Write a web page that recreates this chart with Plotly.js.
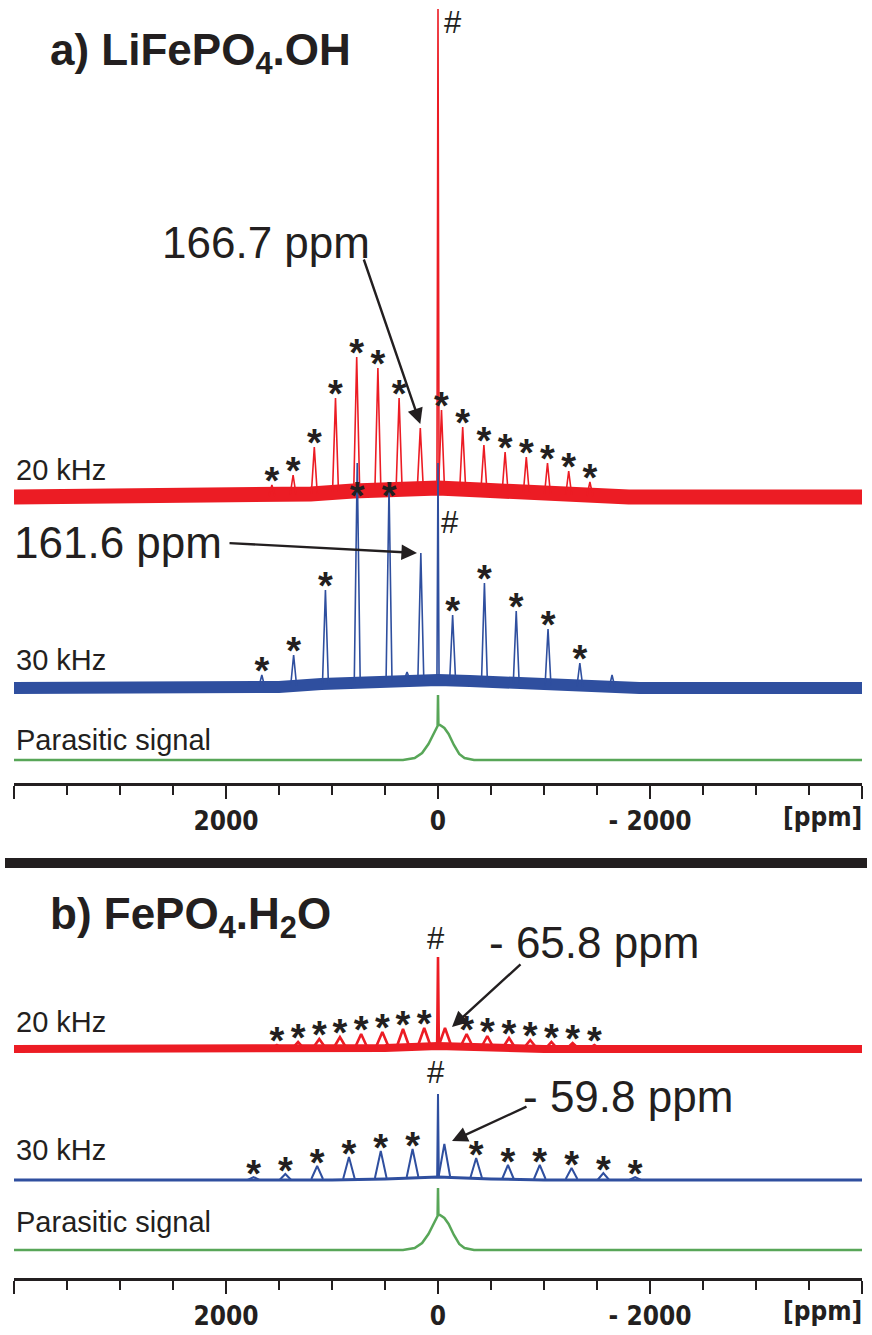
<!DOCTYPE html>
<html>
<head>
<meta charset="utf-8">
<script src="https://cdn.plot.ly/plotly-3.0.1.min.js"></script>
<style>html,body{margin:0;padding:0;background:#fff;}#chart{width:872px;height:1335px;}</style>
</head>
<body>
<div id="chart"></div>
<script>
// ---------- DATA (ppm positions, intensities above each spectrum's baseline) ----------
// Panel a) LiFePO4.OH, 20 kHz
const redA_pos  = [1567, 1367, 1167, 967, 767, 567, 367, 167, 0, -33, -233, -433, -633, -833, -1033, -1233, -1433];
const redA_top  = [12, 22, 50, 99, 140, 129, 99, 69, 488, 87, 70, 52, 45, 40, 34, 26, 15];
const redA_foot = [1, 2, 3, 5, 7, 8, 9, 9, 9, 9, 8, 7, 5, 4, 3, 2, 1];
const redA_mark = ['*','*','*','*','*','*','*','','#','*','*','*','*','*','*','*','*'];
const redA_envPpm = [4000, 1800, 1600, 1200, 800, 400, 0, -400, -800, -1200, -1600, -1800, -4000];
const redA_envInt = [0, 0, 1, 3, 6, 8, 9, 7, 4, 2, 0, 0, 0];
// Panel a) 30 kHz
const blueA_pos  = [1662, 1362, 1062, 762, 462, 292, 162, 0, -138, -438, -738, -1038, -1338, -1642];
const blueA_top  = [13, 33, 98, 225, 201, 16, 135, 225, 73, 105, 77, 59, 25, 13];
const blueA_foot = [1, 2, 4, 6, 7, 8, 8, 8, 7, 5, 4, 2, 1, 0];
const blueA_mark = ['*','*','*','*','*','','','#','*','*','*','*','*',''];
const blueA_envPpm = [4000, 1900, 1500, 1100, 700, 300, 0, -300, -700, -1100, -1500, -1900, -4000];
const blueA_envInt = [0, 0, 1, 4, 6, 8, 8, 7, 5, 2, 1, 0, 0];
// Panel a) parasitic signal
const greenA_ppm = [4000, 330, 220, 150, 90, 50, 20, 4, 0, -4, -19, -60, -100, -150, -200, -250, -340, -4000];
const greenA_int = [0, 0, 2, 7, 16, 25, 32, 34, 65, 35, 35, 32, 26, 15, 6, 2, 0, 0];

// Panel b) FePO4.H2O, 20 kHz
const redB_pos  = [1520, 1320, 1120, 925, 725, 525, 330, 130, 0, -66, -270, -465, -670, -870, -1070, -1270, -1475];
const redB_top  = [4, 7, 10, 12, 15, 17, 20, 21, 92, 21, 15, 13, 11, 9, 7, 6, 4];
const redB_foot = [0, 0, 1, 1, 1, 2, 2, 3, 3, 3, 2, 1, 1, 1, 0, 0, 0];
const redB_mark = ['*','*','*','*','*','*','*','*','#','','*','*','*','*','*','*','*'];
const redB_envPpm = [4000, 1000, 500, 0, -500, -1000, -4000];
const redB_envInt = [0, 0, 1, 3, 1, 0, 0];
// Panel b) 30 kHz
const blueB_pos  = [1740, 1440, 1140, 840, 540, 240, 0, -60, -360, -660, -960, -1260, -1560, -1860];
const blueB_top  = [3, 6, 14, 23, 29, 31, 86, 36, 22, 15, 15, 12, 7, 3];
const blueB_foot = [0, 0, 1, 1, 2, 3, 3, 3, 2, 1, 1, 1, 0, 0];
const blueB_mark = ['*','*','*','*','*','*','#','','*','*','*','*','*','*'];
const blueB_envPpm = [4000, 1000, 500, 0, -500, -1000, -4000];
const blueB_envInt = [0, 0, 1, 3, 1, 0, 0];
// Panel b) parasitic signal
const greenB_ppm = [4000, 330, 220, 150, 90, 50, 20, 4, 0, -4, -19, -60, -100, -150, -200, -250, -340, -4000];
const greenB_int = [0, 0, 2, 7, 16, 25, 32, 34, 62, 35, 35, 32, 26, 15, 6, 2, 0, 0];

const tickVals = [4000, 2000, 0, -2000, -4000];
const tickText = ['', '2000', '0', '- 2000', ''];

// ---------- STYLE ----------
const W = 872, H = 1335;
const RED = '#ec1c24', BLUE = '#2f4f9f', GREEN = '#58a658';
const base = {y: 497, y2: 688, y3: 760, y4: 1049, y5: 1180, y6: 1250};

function peakLine(pos, top, foot, mark, w, wRef) {
  const xs = [], ys = [];
  for (let i = 0; i < pos.length; i++) {
    const ww = mark[i] === '#' ? wRef : w;
    xs.push(pos[i] + ww, pos[i], pos[i] - ww, null);
    ys.push(foot[i], top[i], foot[i], null);
  }
  return {xs, ys};
}
function stars(pos, top, mark, off, cap) {
  const xs = [], ys = [];
  for (let i = 0; i < pos.length; i++) {
    if (mark[i] === '*') { xs.push(pos[i]); ys.push(Math.min(top[i], cap) + off); }
  }
  return {xs, ys};
}

const traces = [];
function addSpectrum(xa, ya, envX, envY, bandW, pos, top, foot, w, wRef, lw, color, mark, off, cap) {
  traces.push({x: envX, y: envY, xaxis: xa, yaxis: ya, mode: 'lines', line: {color: color, width: bandW}, hoverinfo: 'skip'});
  const p = peakLine(pos, top, foot, mark, w, wRef);
  traces.push({x: p.xs, y: p.ys, xaxis: xa, yaxis: ya, mode: 'lines', connectgaps: false, line: {color: color, width: lw}, hoverinfo: 'skip'});
  const s = stars(pos, top, mark, off, cap);
  traces.push({x: s.xs, y: s.ys, xaxis: xa, yaxis: ya, mode: 'text', text: s.xs.map(() => '*'), textposition: 'middle center', cliponaxis: false,
    textfont: {family: 'Liberation Sans, Arial, sans-serif', size: 38, color: '#231f20', weight: 700}, hoverinfo: 'skip'});
}
addSpectrum('x', 'y', redA_envPpm, redA_envInt, 15, redA_pos, redA_top, redA_foot, 28, 10, 1.6, RED, redA_mark, 1, 1000);
addSpectrum('x', 'y2', blueA_envPpm, blueA_envInt, 12, blueA_pos, blueA_top, blueA_foot, 28, 10, 1.6, BLUE, blueA_mark, 1, 188);
traces.push({x: greenA_ppm, y: greenA_int, xaxis: 'x', yaxis: 'y3', mode: 'lines', line: {color: GREEN, width: 2.5}, hoverinfo: 'skip'});
addSpectrum('x2', 'y4', redB_envPpm, redB_envInt, 8, redB_pos, redB_top, redB_foot, 60, 8, 2.6, RED, redB_mark, 1, 1000);
addSpectrum('x2', 'y5', blueB_envPpm, blueB_envInt, 3, blueB_pos, blueB_top, blueB_foot, 55, 8, 2, BLUE, blueB_mark, 0, 1000);
traces.push({x: greenB_ppm, y: greenB_int, xaxis: 'x2', yaxis: 'y6', mode: 'lines', line: {color: GREEN, width: 2.5}, hoverinfo: 'skip'});

function yax(b, extra) { return Object.assign({domain: [0, 1], range: [-(H - b), b], visible: false, fixedrange: true}, extra || {}); }
const tickFont = {family: 'DejaVu Sans Condensed, Liberation Sans Narrow, Arial Narrow, sans-serif', size: 26, color: '#231f20', weight: 700};
function xax(py) {
  return {domain: [14 / W, 862 / W], range: [4000, -4000], anchor: 'free', position: 1 - py / H,
    showline: true, linewidth: 3, linecolor: '#231f20', showgrid: false, zeroline: false,
    ticks: 'outside', ticklen: 13, tickwidth: 2, tickcolor: '#231f20',
    tickvals: tickVals, ticktext: tickText, tickfont: tickFont, ticklabelstandoff: 0,
    minor: {dtick: 500, tick0: 0, ticks: 'outside', ticklen: 9, tickwidth: 2, tickcolor: '#231f20', showgrid: false},
    fixedrange: true};
}

const txt = (size, extra) => Object.assign({family: 'Liberation Sans, Arial, sans-serif', size: size, color: '#231f20'}, extra || {});
function lab(text, x, y, size, anchor, extra) {
  return {text: text, xref: 'paper', yref: 'paper', x: x / W, y: 1 - y / H, xanchor: anchor || 'left', yanchor: 'middle',
    showarrow: false, font: txt(size, extra)};
}
function arrow(xr, yr, x, y, ax, ay) {
  return {text: '', xref: xr, yref: yr, x: x, y: y, ax: ax, ay: ay, showarrow: true, arrowhead: 2, arrowsize: 1.3, arrowwidth: 2.4, arrowcolor: '#231f20', standoff: 0};
}
function hash(xr, yr, x, y, xs, ys) {
  return {text: '#', xref: xr, yref: yr, x: x, y: y, xshift: xs, yshift: ys, showarrow: false, font: txt(31)};
}

const annotations = [
  lab('a) LiFePO<sub>4</sub>.OH', 48, 53, 44, 'left', {weight: 700}),
  lab('b) FePO<sub>4</sub>.H<sub>2</sub>O', 48, 917, 44, 'left', {weight: 700}),
  lab('20 kHz', 14, 470, 29), lab('30 kHz', 14, 660, 29), lab('Parasitic signal', 14, 740, 29),
  lab('20 kHz', 14, 1022, 29), lab('30 kHz', 14, 1150, 29), lab('Parasitic signal', 14, 1222, 29),
  lab('166.7 ppm', 266, 243, 44, 'center'),
  lab('161.6 ppm', 12, 542, 44, 'left'),
  lab('- 65.8 ppm', 594, 942, 44, 'center'),
  lab('- 59.8 ppm', 628, 1096, 44, 'center'),
  lab('[ppm]', 864, 817, 26, 'right', {family: tickFont.family, weight: 700}),
  lab('[ppm]', 864, 1311, 26, 'right', {family: tickFont.family, weight: 700}),
  arrow('x', 'y', 167, 73, -57, -166),
  arrow('x', 'y2', 198, 135, -189, -10),
  arrow('x2', 'y4', -132, 22, 70, -64),
  arrow('x2', 'y5', -132, 39, 76, -35),
  hash('x', 'y', 0, 488, 15, -13),
  hash('x', 'y2', 0, 225, 12, -59),
  hash('x2', 'y4', 0, 92, -2, 19),
  hash('x2', 'y5', 0, 86, -2, 22)
];

const layout = {
  width: W, height: H, margin: {l: 0, r: 0, t: 0, b: 0}, showlegend: false,
  paper_bgcolor: '#ffffff', plot_bgcolor: 'rgba(0,0,0,0)',
  xaxis: xax(784), xaxis2: xax(1279),
  yaxis: yax(base.y), yaxis2: yax(base.y2, {overlaying: 'y'}), yaxis3: yax(base.y3, {overlaying: 'y'}),
  yaxis4: yax(base.y4), yaxis5: yax(base.y5, {overlaying: 'y4'}), yaxis6: yax(base.y6, {overlaying: 'y4'}),
  shapes: [{type: 'rect', xref: 'paper', yref: 'paper', x0: 5 / W, x1: 867 / W, y0: 1 - 868 / H, y1: 1 - 858 / H, fillcolor: '#231f20', line: {width: 0}}],
  annotations: annotations
};
Plotly.newPlot('chart', traces, layout, {staticPlot: true, displayModeBar: false});
</script>
</body>
</html>
